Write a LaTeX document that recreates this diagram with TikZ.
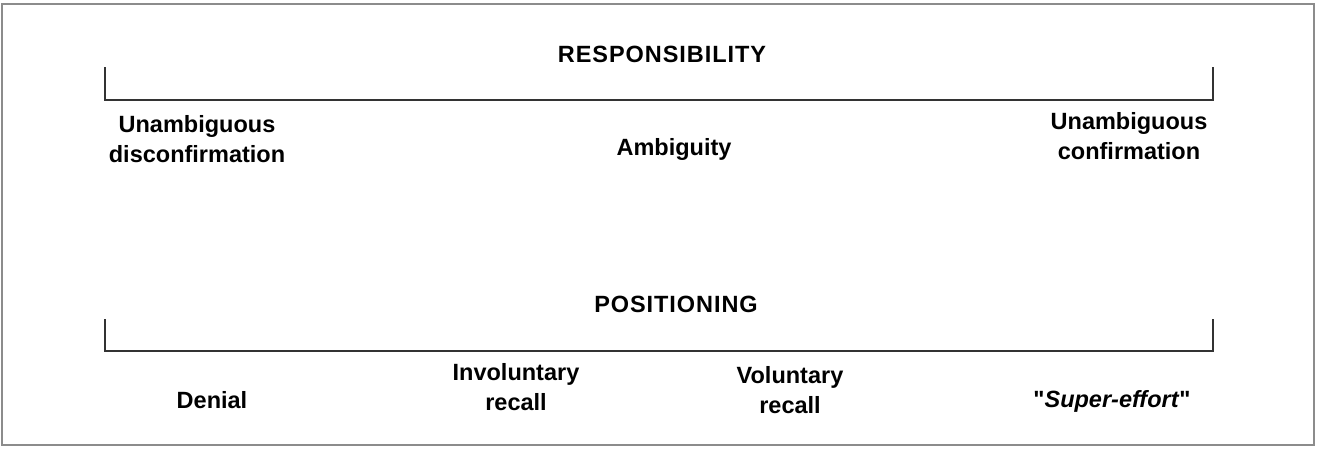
\documentclass[tikz,border=0pt]{standalone}
\usepackage{fontspec}
\setmainfont{Liberation Sans}
\begin{document}
\begin{tikzpicture}[x=1pt,y=-1pt,
  lbl/.style={font=\bfseries\fontsize{23.5}{30}\selectfont, align=center, anchor=base, inner sep=0pt},
  caps/.style={lbl, font=\bfseries\fontsize{23.5}{30}\selectfont\addfontfeature{LetterSpace=4}},
  scaleline/.style={line width=1.6pt, draw=black!80},
  frame/.style={line width=2pt, draw=black!45}]
\useasboundingbox (0,0) rectangle (1317,448);
\draw[frame] (2,4) rectangle (1314,445);
% top scale
\coordinate (t1) at (105,67);
\coordinate (t2) at (105,100);
\coordinate (t3) at (1213,100);
\coordinate (t4) at (1213,67);
\draw[scaleline] (t1) -- (t2) -- (t3) -- (t4);
% bottom scale
\coordinate (b1) at (105,319);
\coordinate (b2) at (105,351);
\coordinate (b3) at (1213,351);
\coordinate (b4) at (1213,319);
\draw[scaleline] (b1) -- (b2) -- (b3) -- (b4);
\node[caps] (resp) at (662,62) {RESPONSIBILITY};
\node[lbl] (udis) at (197,162) {Unambiguous\\disconfirmation};
\node[lbl] (amb) at (674,155) {Ambiguity};
\node[lbl] (ucon) at (1129,159) {Unambiguous\\confirmation};
\node[caps] (pos) at (676,312) {POSITIONING};
\node[lbl] (den) at (212,408) {Denial};
\node[lbl] (inv) at (516,410) {Involuntary\\recall};
\node[lbl] (vol) at (790,413) {Voluntary\\recall};
\node[lbl] (sup) at (1112,407) {\textquotedbl\textit{Super-effort}\textquotedbl};
\end{tikzpicture}
\end{document}
